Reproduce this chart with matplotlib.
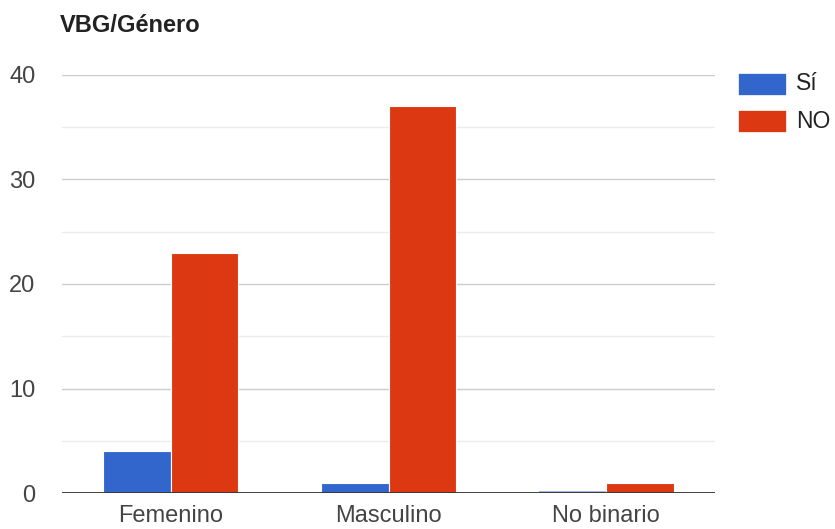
import matplotlib
matplotlib.use("Agg")
import matplotlib.pyplot as plt
from matplotlib.patches import Rectangle
import numpy as np

plt.rcParams['font.family'] = ['Liberation Sans', 'DejaVu Sans']

categories = ["Femenino", "Masculino", "No binario"]
series_names = ["Sí", "NO"]
si_values = [4, 1, 0]
no_values = [23, 37, 1]
colors = ["#3366CC", "#DC3912"]
yticks = [0, 10, 20, 30, 40]

W, H = 835, 529
fig = plt.figure(figsize=(W/100, H/100), dpi=100)
ax = fig.add_axes([62/W, 1-493/H, (715-62)/W, (493-75)/H])

x = np.arange(len(categories))
bw = 0.31
ax.bar(x - bw/2, si_values, bw, color=colors[0], edgecolor="white", linewidth=0.8, zorder=3)
ax.bar(x + bw/2, no_values, bw, color=colors[1], edgecolor="white", linewidth=0.8, zorder=3)
# zero-value bars drawn as thin line
for xi, v in zip(x, si_values):
    if v == 0:
        ax.plot([xi - bw, xi], [0.08, 0.08], color="#8FA8DC", lw=1.2, zorder=3, solid_capstyle="butt")

ax.set_xlim(-0.5, len(categories) - 0.5)
ax.set_ylim(0, 40)
for t in yticks[1:]:
    ax.axhline(t, color="#CCCCCC", lw=1, zorder=1)
for t in [5, 15, 25, 35]:
    ax.axhline(t, color="#EBEBEB", lw=1, zorder=1)
ax.axhline(0, color="#333333", lw=1.3, zorder=4)

for s in ax.spines.values():
    s.set_visible(False)
ax.set_yticks(yticks)
ax.set_yticklabels([str(t) for t in yticks])
ax.set_xticks(x)
ax.set_xticklabels(categories)
ax.tick_params(axis='both', length=0, labelsize=17, labelcolor="#444444")
ax.tick_params(axis='y', pad=19)
ax.tick_params(axis='x', pad=9)
for lab in ax.get_yticklabels():
    lab.set_horizontalalignment('right')

fig.text(60/W, 1-25/H, "VBG/Género", fontsize=17, fontweight='bold', color="#222222",
         ha='left', va='center')

# legend
for i, (name, c) in enumerate(zip(series_names, colors)):
    y0 = 73 + i*37
    fig.add_artist(Rectangle((738/W, 1-(y0+22)/H), 48/W, 22/H, transform=fig.transFigure,
                             facecolor=c, edgecolor="white", lw=0.5))
    fig.text(796/W, 1-(y0+11)/H, name, fontsize=16.5, color="#222222", ha='left', va='center')

fig.savefig("out.png", dpi=100)
